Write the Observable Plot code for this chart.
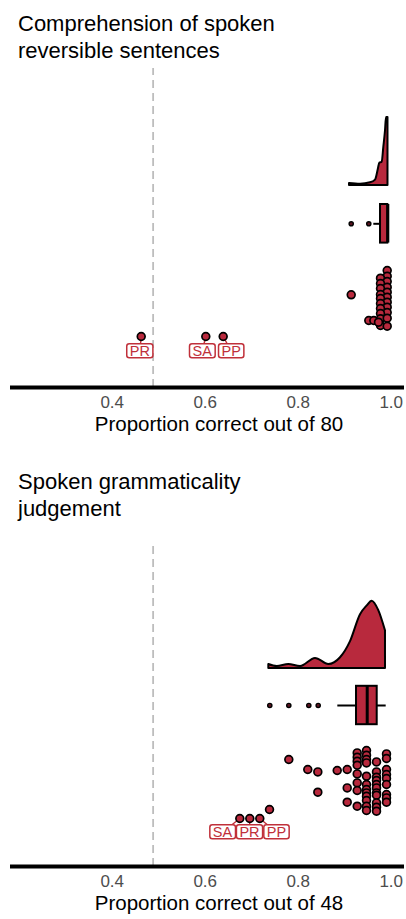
<!DOCTYPE html>
<html><head><meta charset="utf-8">
<script src="https://cdn.jsdelivr.net/npm/d3@7"></script>
<script src="https://cdn.jsdelivr.net/npm/@observablehq/plot@0.6"></script>
<style>
body{margin:0;background:#fff;font-family:"Liberation Sans",Arial,sans-serif;}
#root{width:406px;}
.title{font-size:22px;line-height:26.7px;padding:11px 0 0 18px;color:#000;}
.xlab{font-size:20.5px;line-height:24px;text-align:center;padding-left:32px;color:#000;}
svg{display:block;overflow:visible;}
</style></head><body><div id="root"></div>
<script>
// ---------- shared ----------
const tickValues = [0.4, 0.6, 0.8, 1.0];
const chanceLevel = 0.488;

// ---------- panel 1 : comprehension ----------
const p1Title = ["Comprehension of spoken", "reversible sentences"];
const p1AxisTitle = "Proportion correct out of 80";
const p1DensityX = [0.9103, 0.934, 0.9555, 0.9663, 0.9727, 0.9755, 0.9806, 0.9841, 0.9877, 0.9899, 0.9931];
const p1DensityH = [0.03, 0.02, 0.04, 0.08, 0.25, 0.33, 0.34, 0.56, 0.80, 1.0, 1.0];
const p1BoxStats = [0.9626, 0.977, 0.9927, 0.9927, 0.9927]; // lo whisker, q1, median, q3, hi whisker
const p1Outliers = [0.914, 0.9518];
const p1PointX = [0.9914,0.9914,0.977,0.9914,0.977,0.9914,0.977,0.914,0.9914,0.977,0.9914,0.977,0.9914,0.977,0.9914,0.977,0.9914,0.977,0.9518,0.9626,0.977,0.9914,0.977,0.9914,0.9727];
const p1PointJitter = [117,111.3,109.3,106,104,100.3,99,92.7,95.3,93,90.3,89,85.3,84,80.3,79,75,74,67,67,68.7,69.3,62,61.3,65.3];
const p1Cases = ["PR", "SA", "PP"];
const p1CaseX = [0.4624, 0.6013, 0.6387];
const p1CaseLabelX = [0.4594, 0.5935, 0.6559];

// ---------- panel 2 : grammaticality ----------
const p2Title = ["Spoken grammaticality", "judgement"];
const p2AxisTitle = "Proportion correct out of 48";
const p2DensityX = [0.7368, 0.7548, 0.7798, 0.805, 0.8372, 0.8658, 0.891, 0.9125, 0.934, 0.9484, 0.9591, 0.9733, 0.9877];
const p2DensityH = [0.06, 0.03, 0.06, 0.03, 0.15, 0.06, 0.16, 0.40, 0.80, 0.93, 1.0, 0.86, 0.56];
const p2BoxStats = [0.8852, 0.9254, 0.9484, 0.9699, 0.9892];
const p2Outliers = [0.7389, 0.7798, 0.8228, 0.843];
const p2PointX = [0.7798,0.8206,0.8422,0.8839,0.9054,0.8422,0.9054,0.9054,0.9269,0.7383,
  0.9269,0.9269,0.9269,0.9269,0.9269,0.9269,0.9269,
  0.9469,0.9469,0.9469,0.9469,0.9469,0.9469,0.9469,0.9469,0.9469,0.9469,0.9469,0.9469,
  0.9684,0.9684,0.9684,0.9684,0.9684,0.9684,0.9684,0.9684,0.9684,0.9684,0.9684,
  0.9899,0.9899,0.9899,0.9899,0.9899,0.9899,0.9899,0.9899,0.9899];
const p2PointJitter = [107,97,94.6,96,97,74.3,78.6,64.3,60.3,57,
  113.6,109.3,105.3,101.3,92.6,83.6,76,
  116,111.3,107,103.6,90.3,82,77,73.6,70.3,66,60.3,56,
  104.6,94.6,89.3,86,82,78.6,73.6,71.3,63.6,59.3,55.3,
  112.6,108,97,92,88,82,72,68.6,64.3];
const p2Cases = ["SA", "PR", "PP"];
const p2CaseX = [0.6744, 0.6959, 0.7174];
const p2CaseLabelX = [0.6372, 0.6953, 0.7533];

// ---------- style / layout ----------
const RED = "#b8293d";
const LABEL_RED = "#c0303a";
const xDomain = [0.1813, 1.0286];

function panel(cfg) {
  const root = document.getElementById("root");
  const t = document.createElement("div");
  t.className = "title";
  t.style.marginTop = cfg.titleGap + "px";
  t.innerHTML = cfg.title.join("<br>");
  root.appendChild(t);

  const axisY = cfg.height - 25;
  const density = cfg.densX.map((x, i) => ({x, h: cfg.densH[i]}));
  const [lo, q1, med, q3, hi] = cfg.box;
  const points = cfg.pointX.map((x, i) => ({x, y: cfg.jitter[i]}));
  const cases = cfg.cases.map((c, i) => ({c, x: cfg.caseX[i], lx: cfg.caseLabelX[i]}));
  const L = cfg.layout;

  const svg = Plot.plot({
    width: 406, height: cfg.height,
    marginLeft: 10, marginRight: 2, marginTop: 0, marginBottom: 25,
    style: {fontFamily: '"Liberation Sans", Arial, sans-serif', background: "white", overflow: "visible"},
    x: {domain: xDomain, axis: null},
    y: {domain: [0, axisY], range: [axisY, 0], axis: null},
    marks: [
      Plot.ruleX([chanceLevel], {y1: 0, y2: L.dashTop, stroke: "#bdbdbd", strokeWidth: 1.8, strokeDasharray: "8,5"}),
      Plot.areaY(density, {x: "x", y1: L.densBase, y2: d => L.densBase + d.h * L.densHeight, curve: "monotone-x", fill: RED, stroke: "black", strokeWidth: 2, strokeLinejoin: "round"}),
      Plot.ruleY([0], {x1: lo, x2: q1, y: L.boxY, stroke: "black", strokeWidth: 2}),
      Plot.ruleY([0], {x1: q3, x2: hi, y: L.boxY, stroke: "black", strokeWidth: 2}),
      Plot.rect([0], {x1: q1, x2: q3, y1: L.boxY - L.boxHalf, y2: L.boxY + L.boxHalf, fill: RED, stroke: "black", strokeWidth: 2}),
      Plot.ruleX([med], {y1: L.boxY - L.boxHalf, y2: L.boxY + L.boxHalf, stroke: "black", strokeWidth: 3}),
      Plot.dot(cfg.outliers, {x: d => d, y: L.boxY, r: 2.1, fill: "#5a1420", stroke: "black", strokeWidth: 1.4}),
      Plot.dot(points, {x: "x", y: "y", r: 3.9, fill: RED, stroke: "black", strokeWidth: 1.7}),
      Plot.link(cases, {x1: "x", y1: L.caseY, x2: "lx", y2: L.labelY, stroke: LABEL_RED, strokeWidth: 1.4}),
      Plot.dot(cases, {x: "x", y: L.caseY, r: 3.9, fill: RED, stroke: "black", strokeWidth: 1.7}),
      Plot.text(cases, {x: "lx", y: L.labelY, text: "c", fill: LABEL_RED, fontSize: 14.5}),
      Plot.ruleY([0], {stroke: "black", strokeWidth: 4}),
      Plot.axisX({ticks: tickValues, tickSize: 0, tickPadding: 8, fontSize: 17, fill: "#4d4d4d", label: null, tickFormat: d3.format(".1f")})
    ]
  });
  root.appendChild(svg);

  // white rounded boxes behind case labels
  svg.querySelectorAll('g[aria-label="text"] text').forEach(tx => {
    const b = tx.getBBox();
    const r = document.createElementNS("http://www.w3.org/2000/svg", "rect");
    if (tx.getAttribute("transform")) r.setAttribute("transform", tx.getAttribute("transform"));
    r.setAttribute("x", b.x - 3);
    r.setAttribute("y", b.y + 1);
    r.setAttribute("width", b.width + 6);
    r.setAttribute("height", b.height - 2);
    r.setAttribute("rx", 2.5);
    r.setAttribute("fill", "white");
    r.setAttribute("stroke", LABEL_RED);
    r.setAttribute("stroke-width", 1.5);
    tx.parentNode.insertBefore(r, tx);
  });

  const xl = document.createElement("div");
  xl.className = "xlab";
  xl.textContent = cfg.axisTitle;
  root.appendChild(xl);
}

panel({
  title: p1Title, axisTitle: p1AxisTitle, titleGap: 0, height: 348,
  densX: p1DensityX, densH: p1DensityH, box: p1BoxStats, outliers: p1Outliers,
  pointX: p1PointX, jitter: p1PointJitter, cases: p1Cases, caseX: p1CaseX, caseLabelX: p1CaseLabelX,
  layout: {dashTop: 319, densBase: 202, densHeight: 68, boxY: 163.7, boxHalf: 19.3, caseY: 51, labelY: 36.3}
});
panel({
  title: p2Title, axisTitle: p2AxisTitle, titleGap: 22, height: 368,
  densX: p2DensityX, densH: p2DensityH, box: p2BoxStats, outliers: p2Outliers,
  pointX: p2PointX, jitter: p2PointJitter, cases: p2Cases, caseX: p2CaseX, caseLabelX: p2CaseLabelX,
  layout: {dashTop: 325, densBase: 198, densHeight: 67.3, boxY: 161, boxHalf: 19.2, caseY: 48, labelY: 34.3}
});
</script>
</body></html>
